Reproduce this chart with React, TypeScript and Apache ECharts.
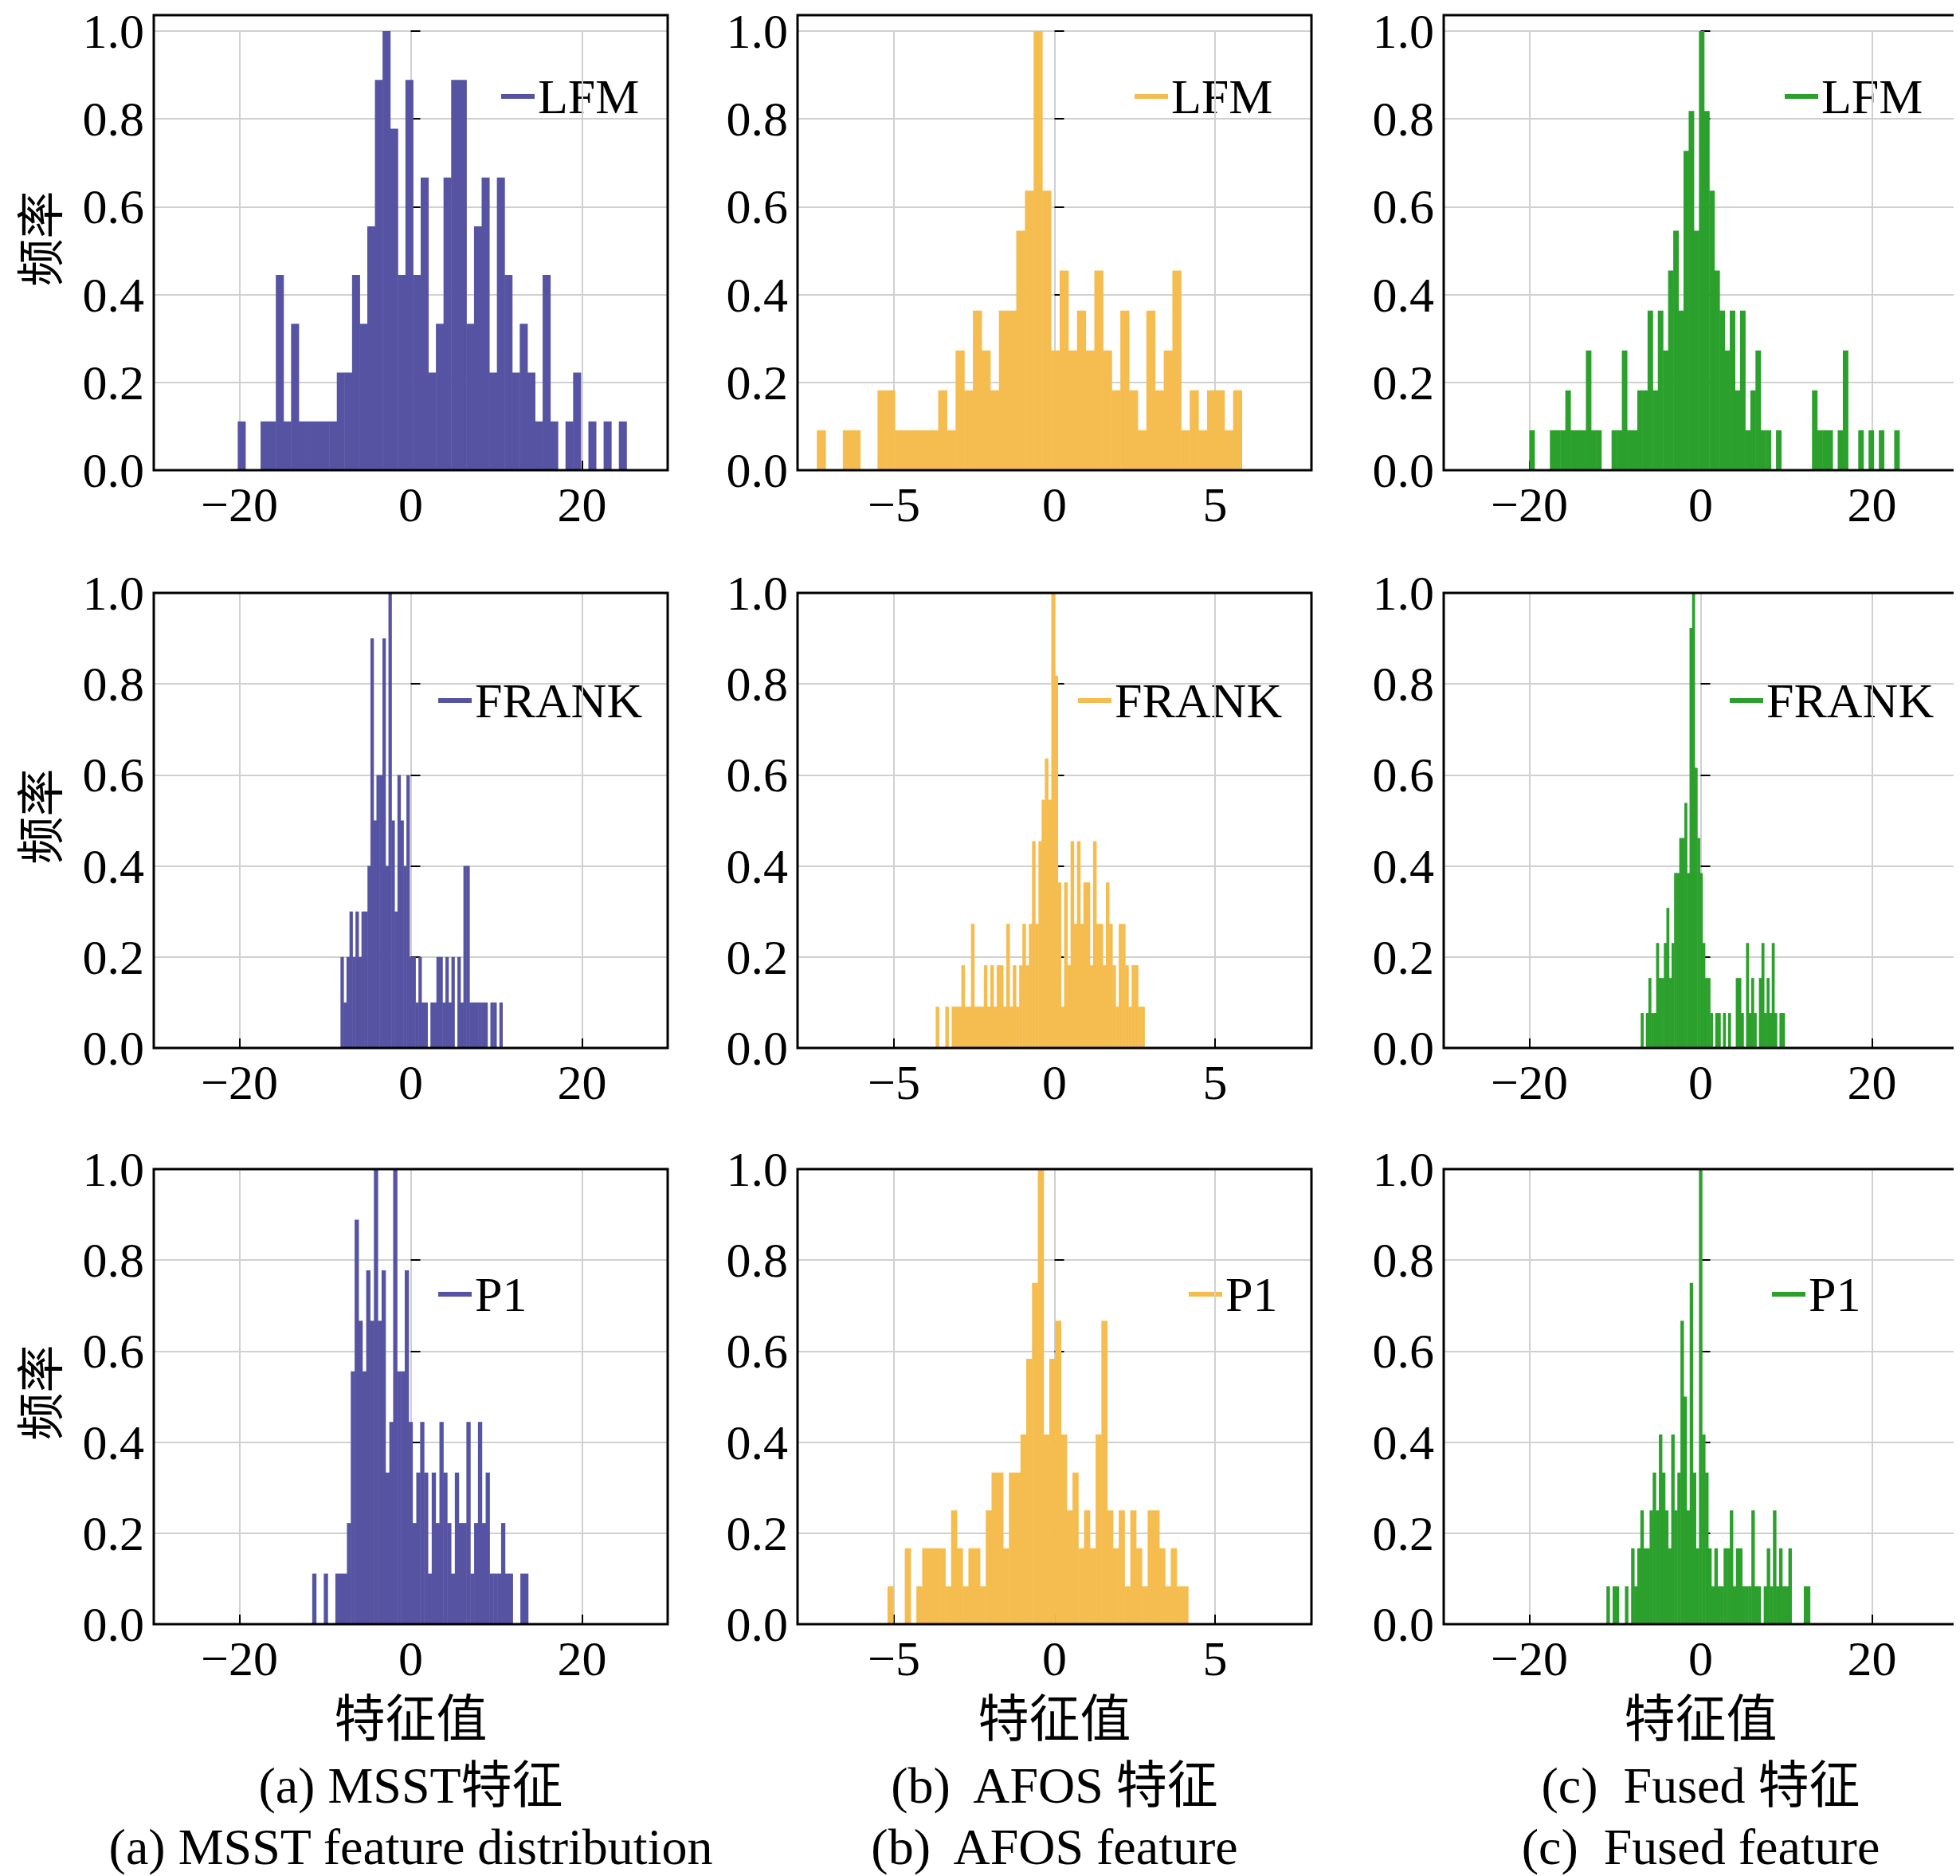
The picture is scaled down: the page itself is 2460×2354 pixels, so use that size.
import React, { useEffect, useRef } from 'react';
import * as echarts from 'echarts';

// histogram counts per panel, with bin start / width / max count in `panels`
const msstLFM = [1,0,0,1,1,4,1,3,1,1,1,1,1,2,2,4,3,5,8,9,7,4,8,4,6,2,3,6,8,8,3,5,6,2,6,4,2,3,2,1,4,1,0,1,2,0,1,0,1,0,1];
const afosLFM = [1,0,0,1,1,0,0,2,2,1,1,1,1,1,2,1,3,2,4,3,2,4,4,6,7,11,7,3,5,3,4,3,5,3,2,4,2,1,4,2,3,5,1,2,1,2,2,1,2];
const fusedLFM = [1,0,0,0,1,1,1,2,1,1,1,3,1,1,0,0,1,1,3,1,1,2,2,4,2,4,3,5,6,4,8,9,6,11,9,7,5,4,3,4,2,4,1,2,3,1,1,0,1,0,0,0,0,0,0,2,1,1,1,0,1,3,0,0,1,0,1,0,1,0,0,1,0];
const msstFRANK = [2,1,2,3,2,3,2,3,3,4,9,5,6,6,9,4,10,5,3,6,5,4,6,2,2,1,2,1,1,0,1,1,2,2,1,2,1,2,0,2,1,4,4,1,1,1,1,1,1,0,1,1,0,1];
const afosFRANK = [1,0,0,1,0,1,1,1,2,1,1,3,1,1,1,2,1,2,1,2,2,1,3,1,2,1,2,3,2,3,5,3,5,6,7,6,11,9,4,1,4,2,5,3,5,3,4,4,2,5,3,3,2,4,3,2,1,3,3,2,1,2,2,1,1];
const fusedFRANK = [1,0,1,2,1,1,3,2,2,3,4,2,3,5,5,6,6,7,5,12,13,8,6,5,3,2,2,1,0,1,1,0,1,0,1,0,0,2,2,1,0,3,1,2,1,0,2,3,1,2,1,3,1,0,1,1];
const msstP1 = [1,0,0,1,0,0,1,1,1,2,5,8,6,5,7,6,9,6,7,3,4,9,5,5,7,4,2,3,4,3,1,3,2,4,3,2,1,3,2,2,4,1,2,4,2,3,1,1,1,2,1,1,0,0,1,1];
const afosP1 = [1,0,0,2,0,1,2,2,2,2,1,3,2,1,2,2,1,3,4,4,2,4,4,5,7,9,12,5,7,8,5,3,4,2,3,2,5,8,3,2,3,1,3,2,1,3,3,2,1,2,1,1];
const fusedP1 = [1,0,1,1,0,0,1,0,2,1,2,3,2,2,3,4,3,5,4,3,2,5,3,4,8,6,3,9,4,2,12,5,4,2,1,2,1,1,2,2,3,1,2,2,1,1,1,3,1,1,0,1,2,1,3,1,2,1,1,2,0,0,0,0,1,1];

const rowNames = ['LFM', 'FRANK', 'P1'];
const colors = ['#5654a2', '#f5bd4f', '#2ca02c'];
const panels = [
  [[-20.2, 0.89, 9, msstLFM], [-7.4, 0.27, 11, afosLFM], [-20, 0.6, 11, fusedLFM]],
  [[-8.2, 0.35, 10, msstFRANK], [-3.7, 0.1, 11, afosFRANK], [-7, 0.3, 13, fusedFRANK]],
  [[-11.5, 0.45, 9, msstP1], [-5.2, 0.18, 12, afosP1], [-11, 0.36, 12, fusedP1]],
] as [number, number, number, number[]][][];
const xRanges = [[-30, 30, [-20, 0, 20]], [-8, 8, [-5, 0, 5]], [-30, 30, [-20, 0, 20]]] as [number, number, number[]][];
const bottomLines = [
  ['特征值', '(a) MSST特征', '(a) MSST feature distribution'],
  ['特征值', '(b)  AFOS 特征', '(b)  AFOS feature'],
  ['特征值', '(c)  Fused 特征', '(c)  Fused feature'],
];

const FONT = "'Liberation Serif', 'Noto Sans CJK SC', serif";
const lefts = [185, 993, 1804];
const tops = [11, 736, 1459];
const W = 645, H = 571;
const legendOffsets = [[482, 403, 403], [469, 398, 537], [474, 405, 458]];
const legendY = [102, 135, 157];

const App: React.FC = () => {
  const ref = useRef<HTMLDivElement>(null);
  useEffect(() => {
    if (!ref.current) return;
    const chart = echarts.init(ref.current, undefined, { renderer: 'svg' });
    const grid: any[] = [], xAxis: any[] = [], yAxis: any[] = [], series: any[] = [], graphic: any[] = [];
    const minus = (v: number) => String(v).replace('-', '\u2212');
    for (let r = 0; r < 3; r++) {
      for (let c = 0; c < 3; c++) {
        const idx = r * 3 + c;
        grid.push({ left: lefts[c], top: tops[r], width: W, height: H });
        const [xmin, xmax, ticks] = xRanges[c];
        xAxis.push({
          gridIndex: idx, type: 'value', min: xmin, max: xmax,
          axisLine: { show: false },
          axisTick: { show: true, inside: true, length: 12, customValues: ticks, lineStyle: { color: '#000', width: 2 } },
          axisLabel: { customValues: ticks, formatter: minus, fontFamily: FONT, fontSize: 62, color: '#000', margin: 12 },
          splitLine: { show: true, lineStyle: { color: '#d0d0d0', width: 2 } },
        });
        yAxis.push({
          gridIndex: idx, type: 'value', min: 0, max: 1, interval: 0.2,
          axisLine: { show: false },
          axisTick: { show: true, inside: true, length: 12, lineStyle: { color: '#000', width: 2 } },
          axisLabel: { formatter: (v: number) => v.toFixed(1), fontFamily: FONT, fontSize: 62, color: '#000', margin: 12 },
          splitLine: { show: true, lineStyle: { color: '#d0d0d0', width: 2 } },
        });
        const [start, bw, maxC, counts] = panels[r][c];
        const data = counts.map((n, i) => [start + i * bw, start + (i + 1) * bw, n / maxC]);
        const color = colors[c];
        series.push({
          type: 'custom', xAxisIndex: idx, yAxisIndex: idx, data,
          encode: { x: [0, 1], y: 2 },
          renderItem: (_p: any, api: any) => {
            const h = api.value(2);
            if (h <= 0) return null;
            const a = api.coord([api.value(0), h]);
            const b = api.coord([api.value(1), 0]);
            return { type: 'rect', shape: { x: a[0], y: a[1], width: b[0] - a[0] + 0.5, height: b[1] - a[1] }, style: { fill: color } };
          },
        });
        graphic.push({ type: 'rect', z: 100, shape: { x: lefts[c], y: tops[r], width: W, height: H }, style: { fill: 'none', stroke: '#000', lineWidth: 3 } });
        const tx = lefts[c] + legendOffsets[c][r];
        const ty = tops[r] + legendY[r];
        graphic.push({ type: 'line', shape: { x1: tx - 46, y1: ty, x2: tx - 4, y2: ty }, style: { stroke: color, lineWidth: 6 } });
        graphic.push({ type: 'text', x: tx, y: ty, style: { text: rowNames[r], font: `62px ${FONT}`, fill: '#000', verticalAlign: 'middle' } });
      }
      graphic.push({ type: 'text', x: 38, y: tops[r] + H / 2 - 5, rotation: Math.PI / 2, style: { text: '频率', font: `60px 'Noto Sans CJK SC'`, fill: '#000', align: 'center', verticalAlign: 'middle' } });
    }
    for (let c = 0; c < 3; c++) {
      const cx = lefts[c] + W / 2;
      bottomLines[c].forEach((t, i) => {
        graphic.push({ type: 'text', x: cx, y: [2149, 2232, 2309][i], style: { text: t, font: `64px ${FONT}`, fill: '#000', align: 'center', verticalAlign: 'middle' } });
      });
    }
    chart.setOption({ animation: false, grid, xAxis, yAxis, series, graphic });
    return () => chart.dispose();
  }, []);
  return <div ref={ref} style={{ width: 2460, height: 2354 }} />;
};

export default App;
